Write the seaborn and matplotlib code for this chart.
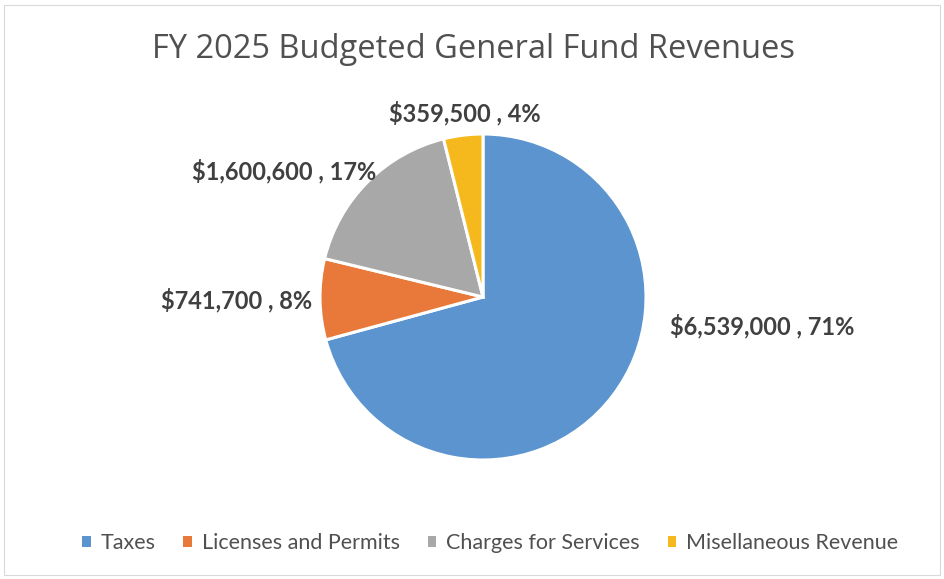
import matplotlib
matplotlib.use("Agg")
import matplotlib.pyplot as plt
from matplotlib.patches import Rectangle
import seaborn as sns

# Budget figures (FY 2025 general fund revenues)
categories = ["Taxes", "Licenses and Permits", "Charges for Services", "Misellaneous Revenue"]
amounts = [6539000, 741700, 1600600, 359500]
colors = ["#5B94CF", "#E8793A", "#A8A8A8", "#F5B91E"]

# label placement (multiples of the pie radius, relative to the centre)
label_xy = [(1.71, -0.18), (-1.51, -0.02), (-1.22, 0.77), (-0.11, 1.13)]

sns.set_theme(style="white")
plt.rcParams["font.family"] = ["Lato", "DejaVu Sans"]

W, H = 944, 579
fig = plt.figure(figsize=(W / 100, H / 100), dpi=100)
fig.patch.set_facecolor("white")
ax = fig.add_axes([0, 0, 1, 1])

wedges, _ = ax.pie(
    amounts,
    colors=colors,
    startangle=90,
    counterclock=False,
    radius=1.0,
    wedgeprops=dict(edgecolor="white", linewidth=2.2),
)

# pixel-based extent: pie radius = 163 px, centre at (483, 297) from top-left
R = 163.0
cx, cy = 483.0, 297.0
ax.set_xlim(-cx / R, (W - cx) / R)
ax.set_ylim(-(H - cy) / R, cy / R)
ax.set_aspect("equal", adjustable="box")
ax.axis("off")

total = sum(amounts)
for amt, (lx, ly) in zip(amounts, label_xy):
    pct = round(100 * amt / total)
    ax.text(lx, ly, f"${amt:,} , {pct}%", ha="center", va="center",
            fontsize=17, fontweight="bold", color="#404040")

fig.text(473 / W, 1 - 50 / H, "FY 2025 Budgeted General Fund Revenues",
         ha="center", va="center", fontsize=23.5, color="#505050",
         family=["Open Sans", "DejaVu Sans"])

handles = [Rectangle((0, 0), 1, 1, facecolor=c, edgecolor="none") for c in colors]
fig.legend(handles, categories, loc="center", bbox_to_anchor=(490 / W, 1 - 543 / H),
           ncol=4, frameon=False, fontsize=15.5, handlelength=0.4, handleheight=0.4,
           handletextpad=0.45, columnspacing=1.3, labelcolor="#505050")

# thin chart border
fig.add_artist(Rectangle((4 / W, 4 / H), (W - 8) / W, (H - 9) / H, transform=fig.transFigure,
                         fill=False, edgecolor="#D9D9D9", linewidth=0.8))

fig.savefig("out.png", dpi=100, facecolor="white")
